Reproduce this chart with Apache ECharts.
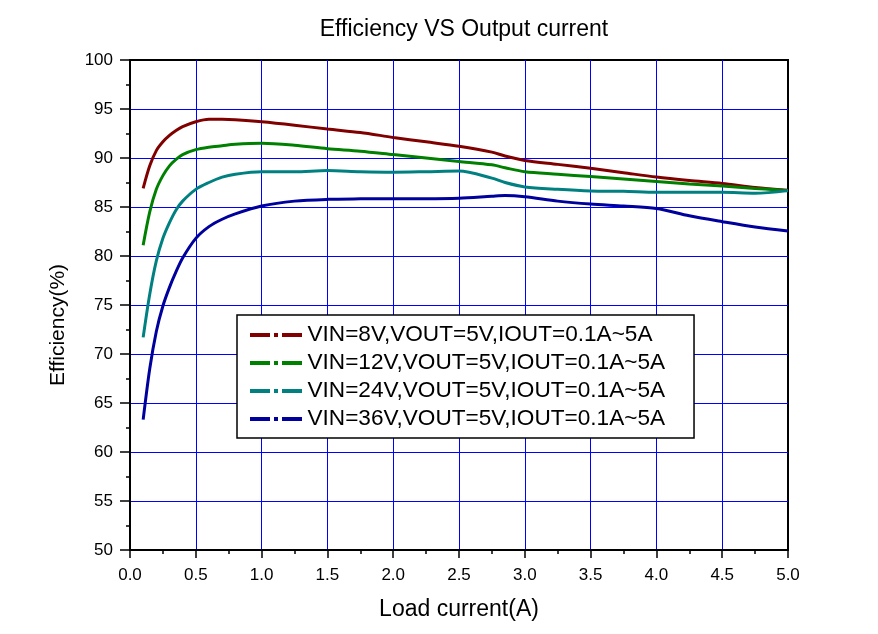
<!DOCTYPE html>
<html>
<head>
<meta charset="utf-8">
<script src="https://cdn.jsdelivr.net/npm/echarts@6/dist/echarts.min.js"></script>
<style>
  html, body { margin: 0; padding: 0; background: #fff; }
  #chart { width: 878px; height: 634px; }
</style>
</head>
<body>
<div id="chart"></div>
<script>
const current = [0.1, 0.15, 0.2, 0.25, 0.3, 0.35, 0.4, 0.5, 0.6, 0.7, 0.8, 1.0, 1.25, 1.5, 1.75, 2.0, 2.25, 2.5, 2.75, 2.85, 3.0, 3.25, 3.5, 3.75, 4.0, 4.25, 4.5, 4.75, 5.0];
const vin8  = [86.9, 89.2, 90.75, 91.65, 92.3, 92.8, 93.2, 93.7, 93.95, 93.95, 93.9, 93.7, 93.35, 92.95, 92.6, 92.1, 91.65, 91.2, 90.6, 90.2, 89.75, 89.35, 88.95, 88.5, 88.05, 87.7, 87.4, 87.0, 86.7];
const vin12 = [81.1, 84.5, 86.8, 88.2, 89.2, 89.85, 90.35, 90.85, 91.1, 91.25, 91.4, 91.5, 91.3, 90.95, 90.7, 90.35, 90.0, 89.65, 89.3, 89.0, 88.6, 88.35, 88.1, 87.85, 87.6, 87.35, 87.15, 86.9, 86.67];
const vin24 = [71.7, 76.1, 79.5, 81.8, 83.4, 84.7, 85.6, 86.8, 87.5, 88.05, 88.35, 88.6, 88.6, 88.72, 88.6, 88.55, 88.6, 88.67, 87.95, 87.5, 87.05, 86.8, 86.63, 86.6, 86.5, 86.5, 86.5, 86.4, 86.67];
const vin36 = [63.3, 68.5, 72.3, 74.9, 76.8, 78.4, 79.8, 81.8, 83.0, 83.75, 84.3, 85.1, 85.6, 85.78, 85.83, 85.85, 85.85, 85.9, 86.1, 86.17, 86.05, 85.6, 85.3, 85.1, 84.85, 84.1, 83.5, 82.95, 82.55];
const seriesNames = [
  'VIN=8V,VOUT=5V,IOUT=0.1A~5A',
  'VIN=12V,VOUT=5V,IOUT=0.1A~5A',
  'VIN=24V,VOUT=5V,IOUT=0.1A~5A',
  'VIN=36V,VOUT=5V,IOUT=0.1A~5A'
];
const seriesValues = [vin8, vin12, vin24, vin36];
const colors = ['#800000', '#008000', '#008080', '#00009c'];

const FONT = "'Liberation Sans', Arial, sans-serif";
const dashDotIcon = 'path://M0,0H20V4H0Z M24,0H28V4H24Z M32,0H52V4H32Z';

const chart = echarts.init(document.getElementById('chart'), null, { renderer: 'canvas' });
chart.setOption({
  animation: false,
  backgroundColor: '#fff',
  color: colors,
  title: {
    text: 'Efficiency VS Output current',
    left: 459,
    textAlign: 'center',
    top: 13,
    textStyle: { fontFamily: FONT, fontSize: 23, fontWeight: 'normal', color: '#000' }
  },
  grid: {
    left: 130, right: 90, top: 60, bottom: 84,
    show: true, borderColor: '#000', borderWidth: 2, backgroundColor: 'transparent'
  },
  legend: {
    orient: 'vertical',
    left: 237, top: 315,
    padding: [8, 29, 7, 13],
    itemGap: 4,
    itemWidth: 53, itemHeight: 4,
    icon: dashDotIcon,
    backgroundColor: '#fff',
    borderColor: '#000',
    borderWidth: 1.5,
    borderRadius: 0,
    textStyle: { fontFamily: FONT, fontSize: 22.6, color: '#000', lineHeight: 24 },
    data: seriesNames
  },
  xAxis: {
    type: 'value',
    min: 0, max: 5, interval: 0.5,
    name: 'Load current(A)',
    nameLocation: 'middle',
    nameGap: 48,
    nameTextStyle: { fontFamily: FONT, fontSize: 23, color: '#000' },
    axisLine: { show: true, onZero: false, lineStyle: { color: '#000', width: 2 } },
    axisTick: { show: true, inside: false, length: 8, lineStyle: { color: '#000', width: 1.5 } },
    minorTick: { show: true, splitNumber: 2, length: 4, lineStyle: { color: '#000', width: 1.5 } },
    axisLabel: {
      margin: 17, fontFamily: FONT, fontSize: 17, color: '#000',
      formatter: v => v.toFixed(1)
    },
    splitLine: { show: true, showMinLine: false, showMaxLine: false, lineStyle: { color: '#0000ff', width: 1 } }
  },
  yAxis: {
    type: 'value',
    min: 50, max: 100, interval: 5,
    name: 'Efficiency(%)',
    nameLocation: 'middle',
    nameGap: 61,
    nameTextStyle: { fontFamily: FONT, fontSize: 21, color: '#000', padding: [0, 40, 0, 0] },
    axisLine: { show: true, onZero: false, lineStyle: { color: '#000', width: 2 } },
    axisTick: { show: true, inside: false, length: 10, lineStyle: { color: '#000', width: 1.5 } },
    minorTick: { show: true, splitNumber: 2, length: 4, lineStyle: { color: '#000', width: 1.5 } },
    axisLabel: { margin: 17, fontFamily: FONT, fontSize: 17, color: '#000' },
    splitLine: { show: true, showMinLine: false, showMaxLine: false, lineStyle: { color: '#0000ff', width: 1 } }
  },
  series: seriesNames.map((name, i) => ({
    name: name,
    type: 'line',
    smooth: 0.3,
    showSymbol: false,
    symbol: 'none',
    lineStyle: { width: 3, color: colors[i] },
    itemStyle: { color: colors[i] },
    data: current.map((x, j) => [x, seriesValues[i][j]])
  }))
});
</script>
</body>
</html>
